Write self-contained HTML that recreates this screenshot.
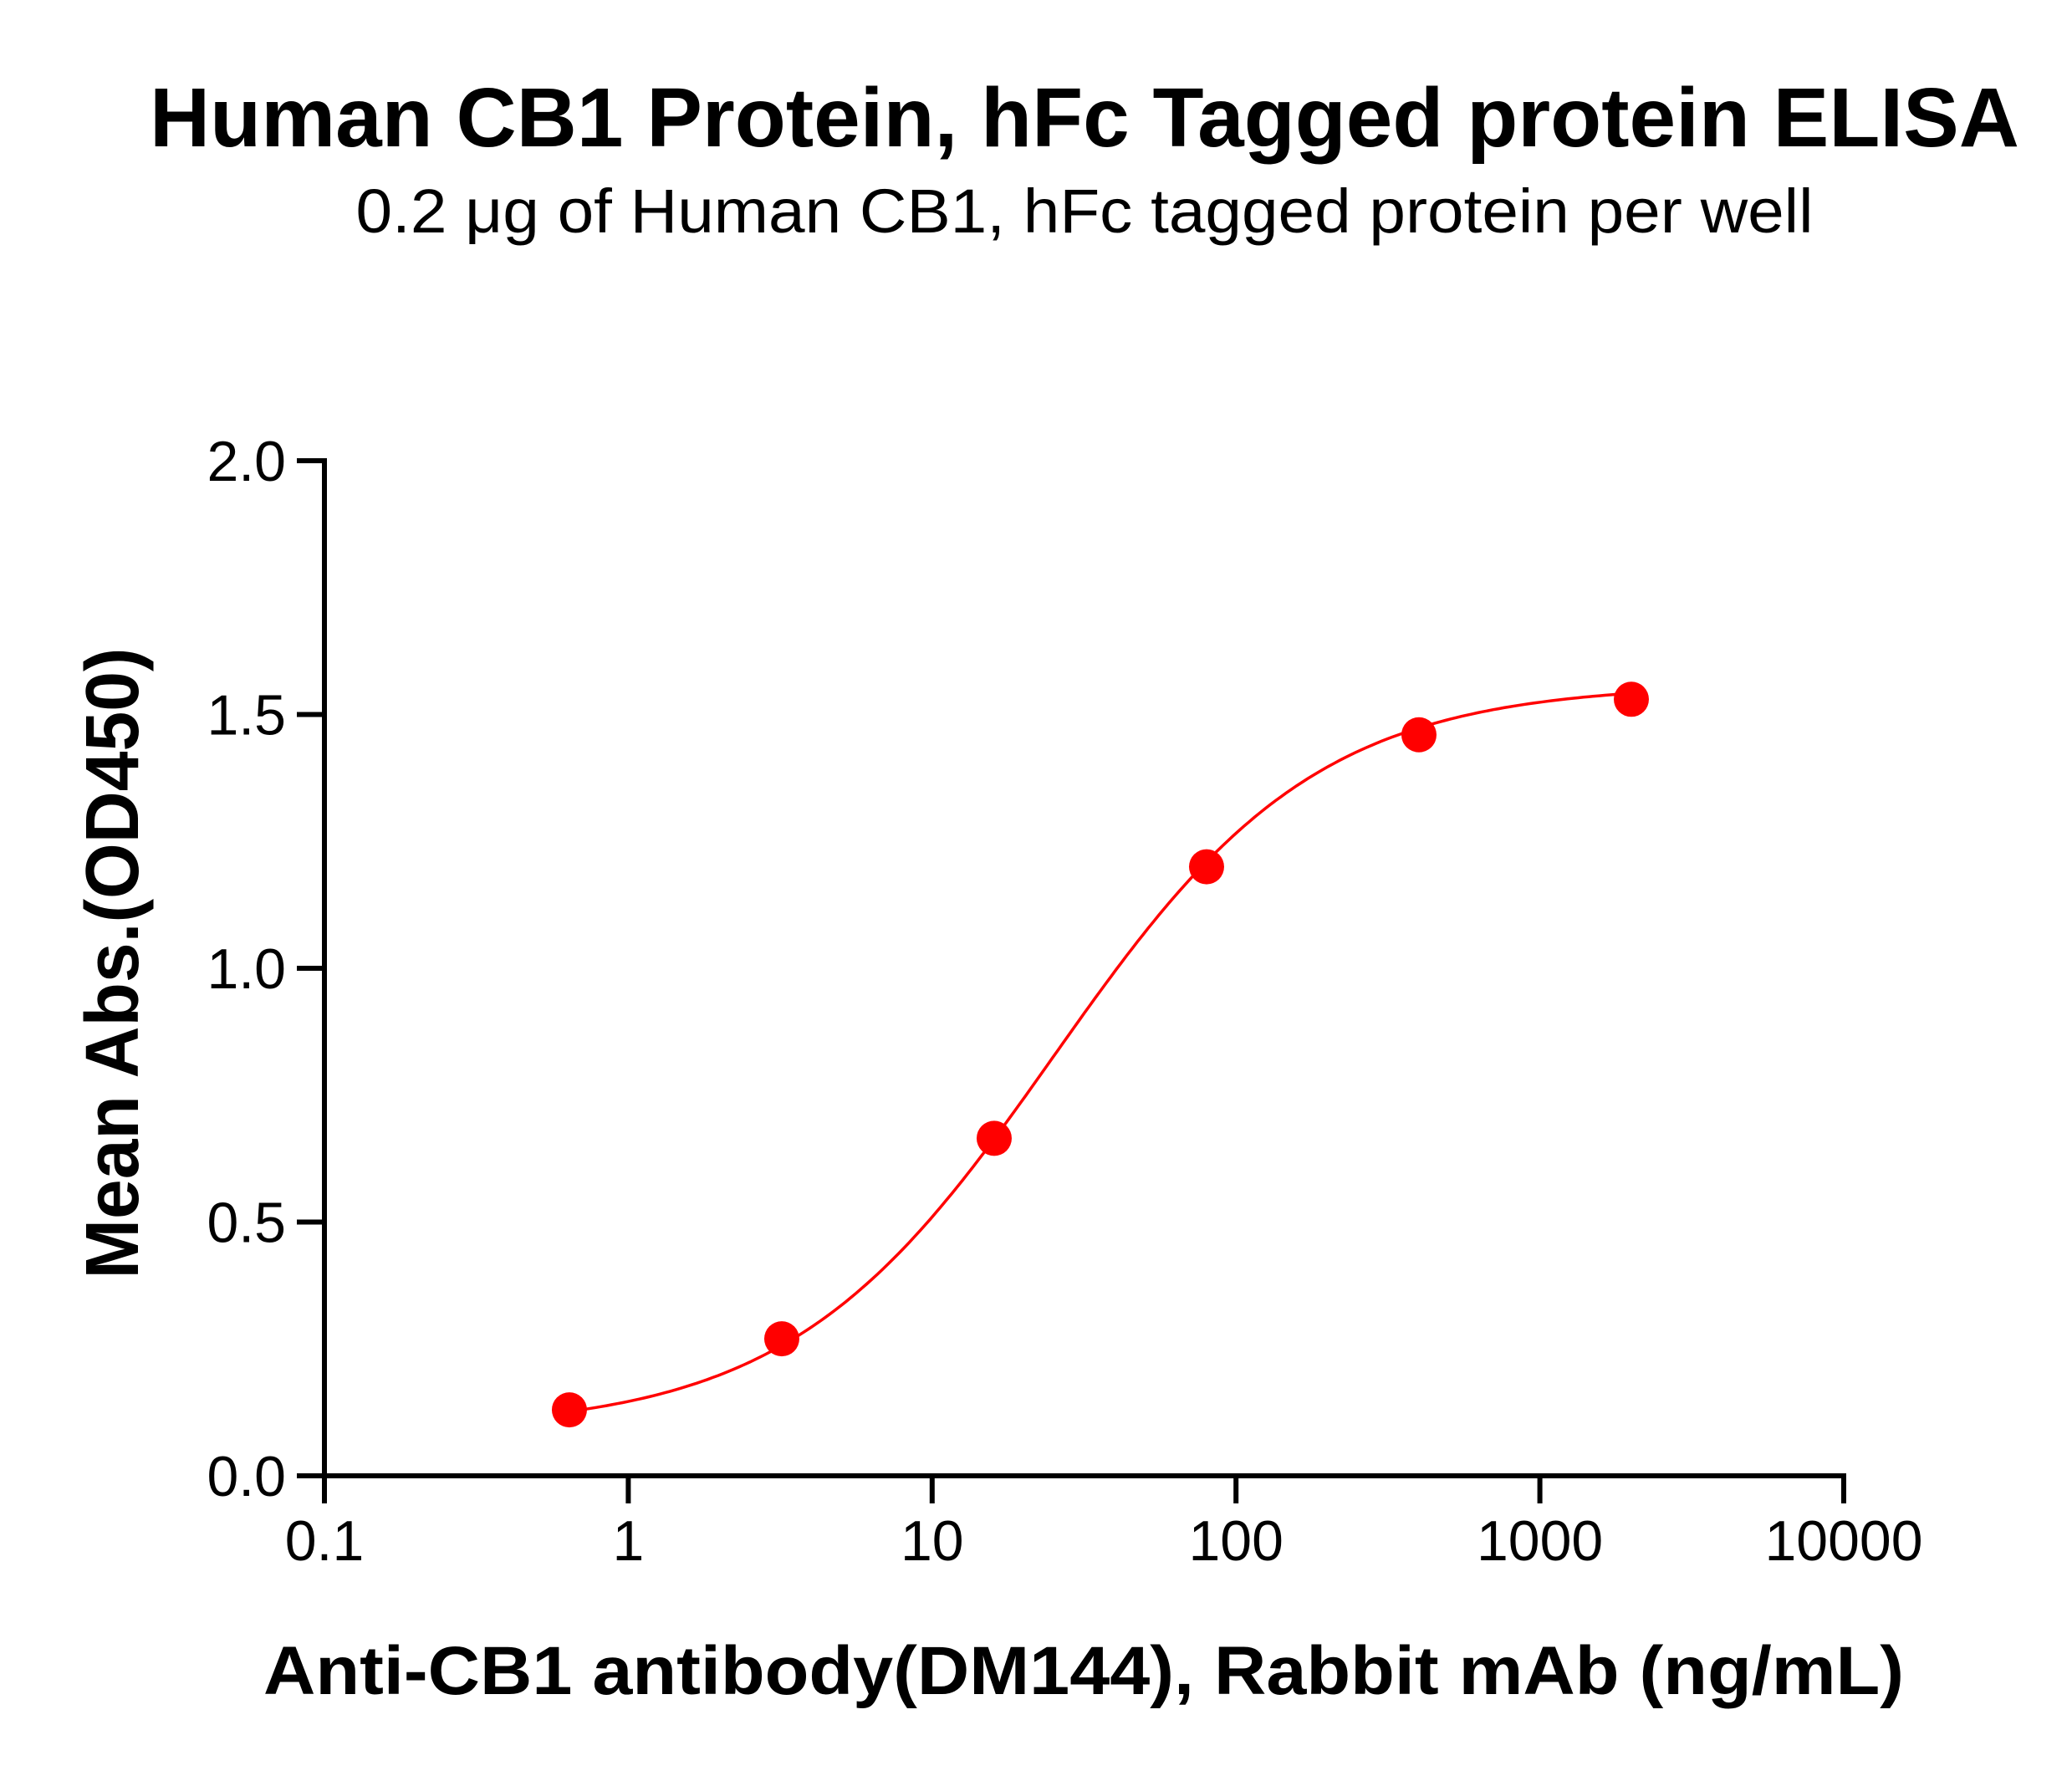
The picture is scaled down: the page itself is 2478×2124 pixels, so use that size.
<!DOCTYPE html>
<html><head><meta charset="utf-8"><style>
html,body{margin:0;padding:0;background:#fff;}
svg{display:block;font-family:"Liberation Sans",Arial,sans-serif;}
</style></head><body>
<svg id="chart" width="2478" height="2124" viewBox="0 0 2478 2124">
<text x="1297" y="175" text-anchor="middle" font-size="100" font-weight="bold" textLength="2236" lengthAdjust="spacingAndGlyphs">Human CB1 Protein, hFc Tagged protein ELISA</text>
<text x="1297" y="278" text-anchor="middle" font-size="74" textLength="1743" lengthAdjust="spacingAndGlyphs">0.2 μg of Human CB1, hFc tagged protein per well</text>
<text transform="translate(165,1152) rotate(-90)" text-anchor="middle" font-size="90" font-weight="bold" textLength="755" lengthAdjust="spacingAndGlyphs">Mean Abs.(OD450)</text>
<text x="1296" y="2026" text-anchor="middle" font-size="82" font-weight="bold" textLength="1962" lengthAdjust="spacingAndGlyphs">Anti-CB1 antibody(DM144), Rabbit mAb (ng/mL)</text>
<g id="axes"></g>
<g id="plot"></g>
</svg>
<script>
const xTicks = [0.1, 1, 10, 100, 1000, 10000];
const xTickLabels = ["0.1", "1", "10", "100", "1000", "10000"];
const yTicks = [0, 0.5, 1.0, 1.5, 2.0];
const yTickLabels = ["0.0", "0.5", "1.0", "1.5", "2.0"];
const concentrations = [0.64, 3.2, 16, 80, 400, 2000];
const absorbance = [0.13, 0.27, 0.665, 1.2, 1.46, 1.53];
const fitBottom = [0.09];
const fitTop = [1.56];
const fitEC50 = [25];
const fitHill = [1.0];

const NS = "http://www.w3.org/2000/svg";
const X0 = 388, X1 = 2205, Y0 = 1765, Y1 = 551;
const xMin = Math.log10(0.1), xMax = Math.log10(10000);
function xs(v){ return X0 + (Math.log10(v) - xMin) / (xMax - xMin) * (X1 - X0); }
function ys(v){ return Y0 - v / 2.0 * (Y0 - Y1); }
function mk(tag, attrs, parent){ const e = document.createElementNS(NS, tag); for (const k in attrs) e.setAttribute(k, attrs[k]); parent.appendChild(e); return e; }

const axes = document.getElementById('axes');
const plot = document.getElementById('plot');

let l = mk('line', {x1: X0, y1: Y1 - 3, x2: X0, y2: Y0 + 3, stroke: '#000', 'stroke-width': 6}, axes);


l = mk('line', {x1: X0 - 3, y1: Y0, x2: X1 + 3, y2: Y0, stroke: '#000', 'stroke-width': 6}, axes);



yTicks.forEach((v, i) => {
  const y = ys(v);
  const t = mk('line', {x1: X0 - 33, y1: y, x2: X0, y2: y, stroke: '#000', 'stroke-width': 6}, axes);
  
  
  const tx = mk('text', {x: X0 - 46, y: y + 24, 'text-anchor': 'end', 'font-size': 68}, axes);
  tx.textContent = yTickLabels[i];
  
  
});
xTicks.forEach((v, i) => {
  const x = xs(v);
  const t = mk('line', {x1: x, y1: Y0, x2: x, y2: Y0 + 33, stroke: '#000', 'stroke-width': 6}, axes);
  
  
  const tx = mk('text', {x: x, y: 1866, 'text-anchor': 'middle', 'font-size': 68}, axes);
  tx.textContent = xTickLabels[i];
  
  
});

function fit(c){ return fitBottom[0] + (fitTop[0] - fitBottom[0]) / (1 + Math.pow(fitEC50[0] / c, fitHill[0])); }
const lo = Math.log10(concentrations[0]), hi = Math.log10(concentrations[concentrations.length - 1]);
let d = '';
for (let k = 0; k <= 200; k++) {
  const c = Math.pow(10, lo + (hi - lo) * k / 200);
  d += (k ? 'L' : 'M') + xs(c).toFixed(1) + ',' + ys(fit(c)).toFixed(1);
}
const curve = mk('path', {d: d, fill: 'none', stroke: '#ff0000', 'stroke-width': 3.5}, plot);



concentrations.forEach((c, i) => {
  const p = mk('circle', {cx: xs(c), cy: ys(absorbance[i]), r: 21, fill: '#ff0000'}, plot);
  
  
});
</script>
</body></html>
